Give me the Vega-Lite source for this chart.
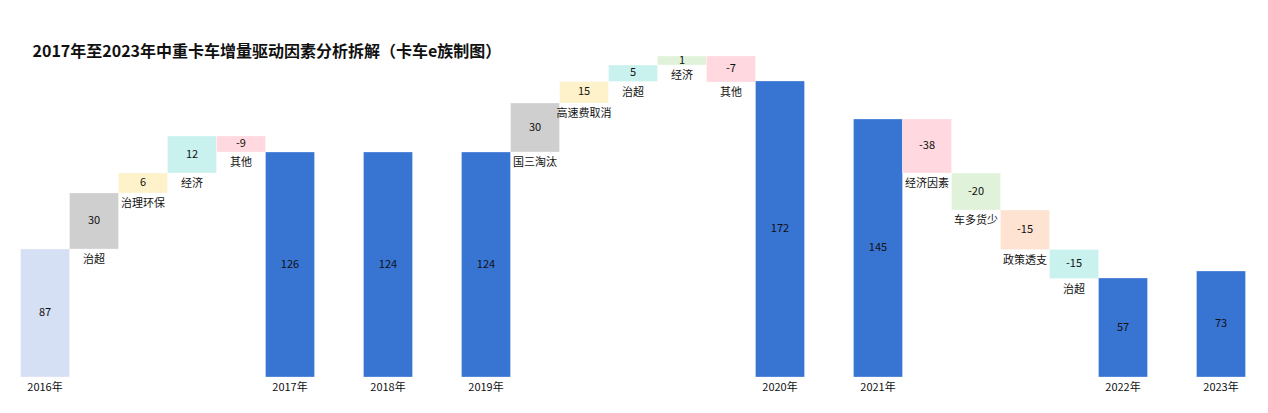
{
  "$schema": "https://vega.github.io/schema/vega-lite/v6.json",
  "autosize": {"type": "none"},
  "width": 1225,
  "height": 321,
  "padding": {"left": 20.5, "top": 56, "right": 22.5, "bottom": 36},
  "background": "white",
  "config": {"view": {"stroke": null}},
  "title": {
    "text": "2017年至2023年中重卡车增量驱动因素分析拆解（卡车e族制图）",
    "anchor": "start",
    "frame": "group",
    "dx": 12,
    "offset": -5,
    "font": "Noto Sans CJK SC",
    "fontSize": 16,
    "fontWeight": "bold",
    "color": "#111"
  },
  "data": {
    "values": [
      {"key": "2016年", "name": "", "start": 0, "end": 128, "value": 87},
      {"key": "f1", "name": "治超", "start": 128, "end": 184, "value": 30},
      {"key": "f2", "name": "治理环保", "start": 184, "end": 204, "value": 6},
      {"key": "f3", "name": "经济", "start": 204, "end": 241, "value": 12},
      {"key": "f4", "name": "其他", "start": 241, "end": 225, "value": -9},
      {"key": "2017年", "name": "", "start": 0, "end": 225, "value": 126},
      {"key": "2018年", "name": "", "start": 0, "end": 225, "value": 124},
      {"key": "2019年", "name": "", "start": 0, "end": 225, "value": 124},
      {"key": "f5", "name": "国三淘汰", "start": 225, "end": 274, "value": 30},
      {"key": "f6", "name": "高速费取消", "start": 274, "end": 295.5, "value": 15},
      {"key": "f7", "name": "治超", "start": 295.5, "end": 312, "value": 5},
      {"key": "f8", "name": "经济", "start": 312, "end": 321, "value": 1},
      {"key": "f9", "name": "其他", "start": 321, "end": 295, "value": -7},
      {"key": "2020年", "name": "", "start": 0, "end": 296, "value": 172},
      {"key": "2021年", "name": "", "start": 0, "end": 258, "value": 145},
      {"key": "f10", "name": "经济因素", "start": 258, "end": 204, "value": -38},
      {"key": "f11", "name": "车多货少", "start": 204, "end": 167, "value": -20},
      {"key": "f12", "name": "政策透支", "start": 167, "end": 127.5, "value": -15},
      {"key": "f13", "name": "治超", "start": 127.5, "end": 98.5, "value": -15},
      {"key": "2022年", "name": "", "start": 0, "end": 99, "value": 57},
      {"key": "2023年", "name": "", "start": 0, "end": 106, "value": 73}
    ]
  },
  "transform": [
    {"calculate": "(datum.start + datum.end) / 2", "as": "mid"},
    {"calculate": "min(datum.start, datum.end)", "as": "lo"}
  ],
  "encoding": {
    "x": {
      "field": "key",
      "type": "nominal",
      "sort": null,
      "scale": {
        "domain": ["2016年", "f1", "f2", "f3", "f4", "2017年", "g1", "2018年", "g2", "2019年",
                   "f5", "f6", "f7", "f8", "f9", "2020年", "g3", "2021年", "f10", "f11",
                   "f12", "f13", "2022年", "g4", "2023年"],
        "paddingInner": 0,
        "paddingOuter": 0
      },
      "axis": {
        "title": null,
        "domain": false,
        "ticks": false,
        "labelAngle": 0,
        "labelPadding": 4,
        "labelFont": "Noto Sans CJK SC",
        "labelFontSize": 11,
        "labelColor": "#111",
        "labelExpr": "test(/年$/, datum.label) ? datum.label : ''"
      }
    }
  },
  "layer": [
    {
      "mark": {"type": "bar", "stroke": "white", "strokeWidth": 0.5, "strokeOpacity": 0.6},
      "encoding": {
        "y": {"field": "start", "type": "quantitative", "scale": {"domain": [0, 321], "nice": false}, "axis": null},
        "y2": {"field": "end"},
        "color": {
          "field": "key",
          "type": "nominal",
          "legend": null,
          "scale": {
            "domain": ["2016年", "f1", "f2", "f3", "f4", "2017年", "2018年", "2019年",
                       "f5", "f6", "f7", "f8", "f9", "2020年", "2021年", "f10", "f11",
                       "f12", "f13", "2022年", "2023年"],
            "range": ["#d6e0f4", "#d0cfcf", "#fef2cb", "#c9f2ef", "#ffd9df", "#3874d2", "#3874d2", "#3874d2",
                      "#d0cfcf", "#fef2cb", "#c9f2ef", "#e0f2d9", "#ffd9df", "#3874d2", "#3874d2", "#ffd9df", "#e0f2d9",
                      "#fee2d2", "#c9f2ef", "#3874d2", "#3874d2"]
          }
        }
      }
    },
    {
      "mark": {"type": "text", "font": "Noto Sans CJK SC", "fontSize": 11, "color": "#111", "baseline": "middle"},
      "encoding": {
        "y": {"field": "mid", "type": "quantitative"},
        "text": {"field": "value", "type": "nominal"}
      }
    },
    {
      "transform": [{"filter": "datum.name != ''"}],
      "mark": {"type": "text", "font": "Noto Sans CJK SC", "fontSize": 11, "color": "#111", "baseline": "middle", "dy": 11},
      "encoding": {
        "y": {"field": "lo", "type": "quantitative"},
        "text": {"field": "name", "type": "nominal"}
      }
    }
  ]
}
